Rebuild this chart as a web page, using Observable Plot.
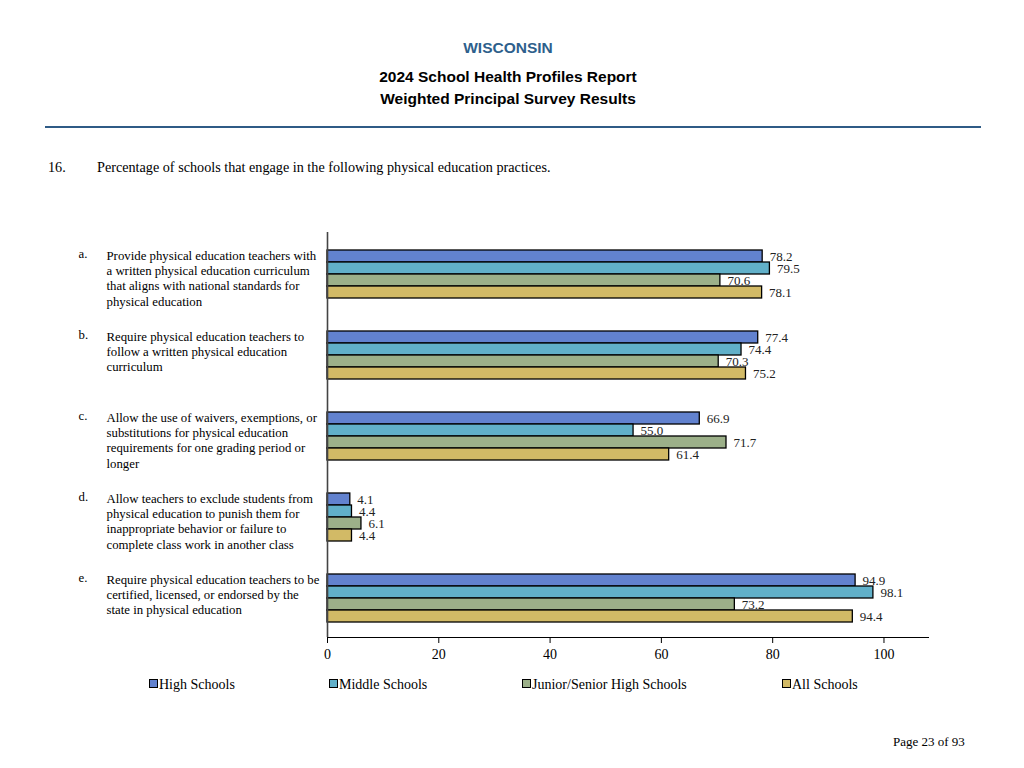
<!DOCTYPE html>
<html><head><meta charset="utf-8">
<script src="https://cdn.jsdelivr.net/npm/d3@7"></script>
<script src="https://cdn.jsdelivr.net/npm/@observablehq/plot@0.6"></script>
<style>
body{margin:0;background:#fff;}
#page{position:relative;width:1024px;height:768px;overflow:hidden;font-family:"Liberation Serif","Times New Roman",serif;color:#000;}
.abs{position:absolute;white-space:nowrap;}
.hdr{left:0;width:1016px;text-align:center;font-family:"Liberation Sans",Arial,sans-serif;font-weight:bold;font-size:15.5px;}
#chart{position:absolute;left:0;top:200px;}
.sw{display:inline-block;width:7px;height:7px;border:1px solid #000;margin-right:1px;vertical-align:1px;}
</style></head><body><div id="page">
<div class="abs hdr" style="top:39px;color:#2e5f8c">WISCONSIN</div>
<div class="abs hdr" style="top:68px">2024 School Health Profiles Report</div>
<div class="abs hdr" style="top:90px">Weighted Principal Survey Results</div>
<div class="abs" style="left:45px;top:126px;width:936px;height:2px;background:#2f5b86"></div>
<div class="abs" style="left:48px;top:159px;font-size:14.2px">16.</div>
<div class="abs" style="left:97px;top:159px;font-size:14.2px">Percentage of schools that engage in the following physical education practices.</div>
<div id="chart"></div>
<div id="legend"></div>
<div class="abs" style="left:893px;top:734px;font-size:13px">Page 23 of 93</div>
</div>
<script>
const letters = ["a.", "b.", "c.", "d.", "e."];
const questions = [
  "Provide physical education teachers with\na written physical education curriculum\nthat aligns with national standards for\nphysical education",
  "Require physical education teachers to\nfollow a written physical education\ncurriculum",
  "Allow the use of waivers, exemptions, or\nsubstitutions for physical education\nrequirements for one grading period or\nlonger",
  "Allow teachers to exclude students from\nphysical education to punish them for\ninappropriate behavior or failure to\ncomplete class work in another class",
  "Require physical education teachers to be\ncertified, licensed, or endorsed by the\nstate in physical education"
];
const series = ["High Schools", "Middle Schools", "Junior/Senior High Schools", "All Schools"];
const highSchools = [78.2, 77.4, 66.9, 4.1, 94.9];
const middleSchools = [79.5, 74.4, 55.0, 4.4, 98.1];
const juniorSeniorHighSchools = [70.6, 70.3, 71.7, 6.1, 73.2];
const allSchools = [78.1, 75.2, 61.4, 4.4, 94.4];
const xTicks = [0, 20, 40, 60, 80, 100];
const colors = ["#6282cf", "#61b0c9", "#9cb089", "#d2ba66"];
const legendX = [149, 329, 522, 782];

const seriesValues = [highSchools, middleSchools, juniorSeniorHighSchools, allSchools];
const data = [];
letters.forEach((l, i) => series.forEach((s, j) => data.push({letter: l, series: s, value: seriesValues[j][i]})));
const groups = letters.map((l, i) => ({letter: l, question: questions[i]}));

const chart = Plot.plot({
  width: 1024, height: 470,
  marginTop: 32, marginBottom: 33, marginLeft: 327, marginRight: 96,
  style: {fontFamily: "'Liberation Serif','Times New Roman',serif", fontSize: "14px", color: "#000", background: "transparent", overflow: "visible"},
  x: {domain: [0, 108], ticks: xTicks, tickFormat: d => d, line: true, label: null, tickSize: 6, tickPadding: 6},
  y: {domain: series, axis: null, paddingInner: 0, paddingOuter: 1.375, align: 0.55},
  fy: {domain: letters, axis: null, padding: 0},
  color: {domain: series, range: colors},
  marks: [
    Plot.barX(data, {x: "value", y: "series", fy: "letter", fill: "series", stroke: "#000", strokeWidth: 1.3}),
    Plot.text(data, {x: "value", y: "series", fy: "letter", text: d => d.value.toFixed(1), textAnchor: "start", dx: 7, fontSize: 13, fill: "#222"}),
    Plot.ruleX([0], {stroke: "#444", strokeWidth: 1.6}),
    Plot.text(groups, {fy: "letter", text: "letter", frameAnchor: "top-left", dx: -249, dy: 16, lineAnchor: "top", textAnchor: "start", fontSize: 12.8}),
    Plot.text(groups, {fy: "letter", text: "question", frameAnchor: "top-left", dx: -221, dy: 16, lineAnchor: "top", textAnchor: "start", fontSize: 12.8, lineHeight: 1.21})
  ]
});
document.getElementById("chart").appendChild(chart);

const legend = document.getElementById("legend");
series.forEach((s, j) => {
  const d = document.createElement("div");
  d.className = "abs";
  d.style.left = legendX[j] + "px";
  d.style.top = "677px";
  d.style.fontSize = "14px";
  d.innerHTML = `<span class="sw" style="background:${colors[j]}"></span>${s}`;
  legend.appendChild(d);
});
</script>
</body></html>
